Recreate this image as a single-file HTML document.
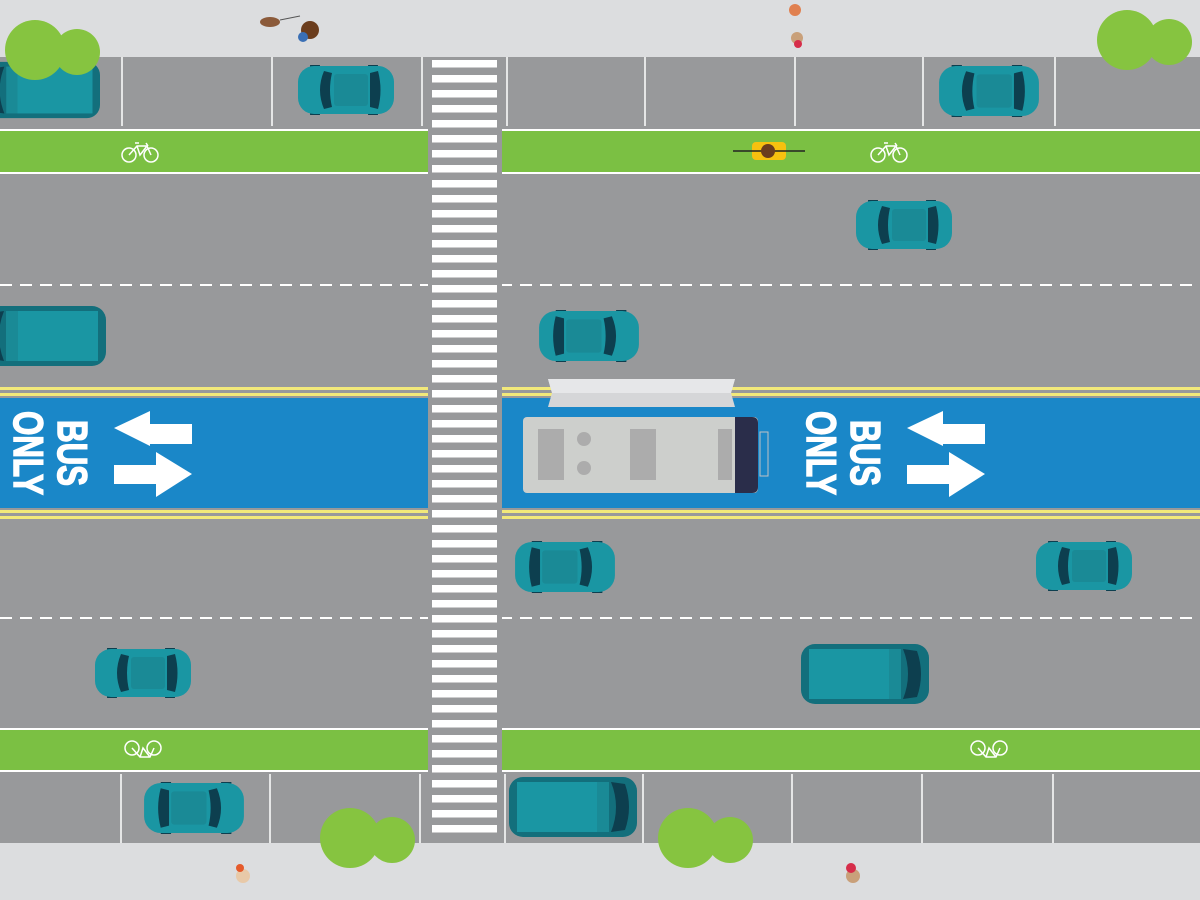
<!DOCTYPE html>
<html><head><style>body{margin:0}svg{display:block}</style></head><body>
<svg width="1200" height="900" viewBox="0 0 1200 900" xmlns="http://www.w3.org/2000/svg">
<defs>
<symbol id="car" viewBox="0 0 96 50">
<rect x="12" y="-2" width="10" height="6" rx="3" fill="#0d3f4f"/><rect x="70" y="-2" width="10" height="6" rx="3" fill="#0d3f4f"/>
<rect x="12" y="46" width="10" height="6" rx="3" fill="#0d3f4f"/><rect x="70" y="46" width="10" height="6" rx="3" fill="#0d3f4f"/>
<rect x="0" y="1" width="96" height="48" rx="16" fill="#1a96a3"/>
<path d="M26 6 Q18 25 26 44 L34 42 Q30 25 34 8Z" fill="#0d3f4f"/>
<rect x="36" y="9" width="34" height="32" rx="3" fill="#1a8a96"/>
<path d="M72 8 L80 6 Q85 25 80 44 L72 42Z" fill="#0d3f4f"/>
</symbol>
<symbol id="van" viewBox="0 0 128 62">
<rect x="0" y="1" width="128" height="60" rx="14" fill="#136f7c"/>
<rect x="8" y="6" width="80" height="50" fill="#1a96a3"/>
<rect x="88" y="6" width="12" height="50" fill="#1a8a96"/>
<path d="M102 6 Q112 31 102 56 L116 54 Q124 31 116 8Z" fill="#0d3f4f"/>
</symbol>
<g id="tree"><circle cx="0" cy="0" r="30" fill="#86c440"/><circle cx="42" cy="2" r="23" fill="#86c440"/></g>
<rect id="st" x="432" y="0" width="65" height="7.5" fill="#fff"/>
<g id="s4"><use href="#st" y="0"/><use href="#st" y="15"/><use href="#st" y="30"/><use href="#st" y="45"/></g>
</defs>
<rect width="1200" height="900" fill="#98999b"/>
<rect width="1200" height="57" fill="#dcdddf"/>
<rect y="843" width="1200" height="57" fill="#dcdddf"/>
<g stroke="#fff" stroke-width="1.5">
<line x1="122" y1="57" x2="122" y2="126"/><line x1="272" y1="57" x2="272" y2="126"/><line x1="422" y1="57" x2="422" y2="126"/><line x1="507" y1="57" x2="507" y2="126"/><line x1="645" y1="57" x2="645" y2="126"/><line x1="795" y1="57" x2="795" y2="126"/><line x1="923" y1="57" x2="923" y2="126"/><line x1="1055" y1="57" x2="1055" y2="126"/>
<line x1="121" y1="774" x2="121" y2="843"/><line x1="270" y1="774" x2="270" y2="843"/><line x1="420" y1="774" x2="420" y2="843"/><line x1="505" y1="774" x2="505" y2="843"/><line x1="643" y1="774" x2="643" y2="843"/><line x1="792" y1="774" x2="792" y2="843"/><line x1="922" y1="774" x2="922" y2="843"/><line x1="1053" y1="774" x2="1053" y2="843"/>
</g>
<rect y="129" width="1200" height="45" fill="#fff"/><rect y="131" width="1200" height="41" fill="#7bc043"/>
<rect y="728" width="1200" height="44" fill="#fff"/><rect y="730" width="1200" height="40" fill="#7bc043"/>
<g stroke="#fff" stroke-width="2" stroke-dasharray="12 8"><line x1="0" y1="285" x2="1200" y2="285"/><line x1="0" y1="618" x2="1200" y2="618"/></g>
<rect y="387" width="1200" height="3" fill="#f2e97a"/><rect y="393" width="1200" height="3" fill="#f2e97a"/>
<rect y="398" width="1200" height="110" fill="#1a87c8"/>
<rect y="510" width="1200" height="3" fill="#f2e97a"/><rect y="516" width="1200" height="3" fill="#f2e97a"/>
<!-- crosswalk -->
<rect x="428" y="57" width="74" height="786" fill="#98999b"/>
<use href="#s4" y="60"/><use href="#s4" y="120"/><use href="#s4" y="180"/><use href="#s4" y="240"/>
<use href="#s4" y="300"/><use href="#s4" y="360"/><use href="#s4" y="420"/><use href="#s4" y="480"/>
<use href="#s4" y="540"/><use href="#s4" y="600"/><use href="#s4" y="660"/><use href="#s4" y="720"/>
<use href="#s4" y="780"/>
<!-- bike symbols -->
<g fill="none" stroke="#fff" stroke-width="1.5">
<g transform="translate(140,152)"><circle cx="-11" cy="3" r="7"/><circle cx="11" cy="3" r="7"/><path d="M-11 3 L-3 -6 L7 -6 L11 3 M-3 -6 L0 3 L7 -6 M-5 -9 H-1 M6 -9 L8 -6"/></g>
<g transform="translate(889,152)"><circle cx="-11" cy="3" r="7"/><circle cx="11" cy="3" r="7"/><path d="M-11 3 L-3 -6 L7 -6 L11 3 M-3 -6 L0 3 L7 -6 M-5 -9 H-1 M6 -9 L8 -6"/></g>
<g transform="translate(143,749)"><circle cx="-11" cy="-1" r="7"/><circle cx="11" cy="-1" r="7"/><path d="M-11 -1 L-3 8 L7 8 L11 -1 M-3 8 L0 -1 L7 8"/></g>
<g transform="translate(989,749)"><circle cx="-11" cy="-1" r="7"/><circle cx="11" cy="-1" r="7"/><path d="M-11 -1 L-3 8 L7 8 L11 -1 M-3 8 L0 -1 L7 8"/></g>
</g>
<!-- BUS ONLY -->
<g font-family="'Liberation Sans Narrow','Liberation Sans',sans-serif" font-weight="bold" font-size="42" fill="#fff" stroke="#fff" stroke-width="1.5">
<text transform="translate(56,453) rotate(90)" text-anchor="middle" textLength="66" lengthAdjust="spacingAndGlyphs" y="-2">BUS</text>
<text transform="translate(12,453) rotate(90)" text-anchor="middle" textLength="84" lengthAdjust="spacingAndGlyphs" y="-2">ONLY</text>
<text transform="translate(849,453) rotate(90)" text-anchor="middle" textLength="66" lengthAdjust="spacingAndGlyphs" y="-2">BUS</text>
<text transform="translate(805,453) rotate(90)" text-anchor="middle" textLength="84" lengthAdjust="spacingAndGlyphs" y="-2">ONLY</text>
</g>
<g fill="#fff">
<path d="M114 428 L150 411 L150 424 L192 424 L192 444 L150 444 L150 446Z"/>
<path d="M192 474 L156 452 L156 465 L114 465 L114 484 L156 484 L156 497Z"/>
<path d="M907 428 L943 411 L943 424 L985 424 L985 444 L943 444 L943 446Z"/>
<path d="M985 474 L949 452 L949 465 L907 465 L907 484 L949 484 L949 497Z"/>
</g>
<!-- bus -->
<path d="M548 379 L735 379 L731 393 L735 407 L548 407 L552 393Z" fill="#d5d6d8"/>
<path d="M548 379 L735 379 L731 393 L552 393Z" fill="#e6e7e9"/>
<rect x="523" y="417" width="235" height="76" rx="4" fill="#cdcfcc"/>
<path d="M735 417 H752 Q758 417 758 423 V487 Q758 493 752 493 H735Z" fill="#2a2d4a"/>
<rect x="760" y="432" width="8" height="44" fill="none" stroke="#c0c2c4"/>
<rect x="538" y="429" width="26" height="51" fill="#acacac"/><circle cx="584" cy="439" r="7" fill="#acacac"/><circle cx="584" cy="468" r="7" fill="#acacac"/>
<rect x="630" y="429" width="26" height="51" fill="#acacac"/><rect x="718" y="429" width="14" height="51" fill="#acacac"/>
<!-- cars -->
<use href="#car" x="298" y="65" width="96" height="50"/>
<use href="#car" x="937" y="65" width="104" height="52"/>
<use href="#car" x="856" y="200" width="96" height="50"/>
<use href="#car" x="537" y="310" width="104" height="52" transform="rotate(180 589 336)"/>
<use href="#car" x="513" y="541" width="104" height="52" transform="rotate(180 565 567)"/>
<use href="#car" x="1036" y="541" width="96" height="50"/>
<use href="#car" x="95" y="648" width="96" height="50"/>
<use href="#car" x="142" y="782" width="104" height="52" transform="rotate(180 194 808)"/>
<use href="#van" x="-20" y="60" width="120" height="60" transform="rotate(180 40 90)"/>
<use href="#van" x="-22" y="305" width="128" height="62" transform="rotate(180 42 336)"/>
<use href="#van" x="801" y="643" width="128" height="62"/>
<use href="#van" x="509" y="776" width="128" height="62"/>
<!-- cyclist -->
<rect x="752" y="142" width="34" height="18" rx="4" fill="#f7c10f"/><line x1="733" y1="151" x2="805" y2="151" stroke="#222" stroke-width="1.5"/><circle cx="768" cy="151" r="7" fill="#6b3d1d"/>
<!-- trees -->
<use href="#tree" transform="translate(35,50)"/><use href="#tree" transform="translate(1127,40)"/>
<use href="#tree" transform="translate(350,838)"/><use href="#tree" transform="translate(688,838)"/>
<!-- pedestrians -->
<circle cx="310" cy="30" r="9" fill="#6b3d1d"/><circle cx="303" cy="37" r="5" fill="#3a6fb5"/><ellipse cx="270" cy="22" rx="10" ry="5" fill="#8b5a3a"/><line x1="280" y1="20" x2="300" y2="16" stroke="#555"/>
<circle cx="795" cy="10" r="6" fill="#e08050"/><circle cx="797" cy="38" r="6" fill="#c9a07a"/><circle cx="798" cy="44" r="4" fill="#d62d4a"/>
<circle cx="243" cy="876" r="7" fill="#e8c9a8"/><circle cx="240" cy="868" r="4" fill="#e55a2b"/>
<circle cx="853" cy="876" r="7" fill="#c9a07a"/><circle cx="851" cy="868" r="5" fill="#d62d4a"/>
</svg>
</body></html>
